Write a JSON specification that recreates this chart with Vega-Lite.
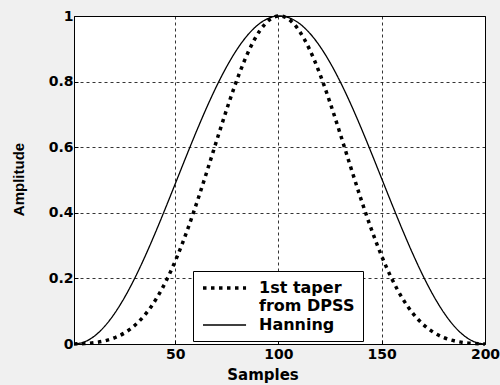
{
  "$schema": "https://vega.github.io/schema/vega-lite/v6.json",
  "width": 411,
  "height": 328,
  "autosize": {"type": "none"},
  "padding": {"left": 74, "top": 16, "right": 15, "bottom": 41},
  "background": "#f0f0f0",
  "data": {"values": [
    {"x": 1, "dpss": 0.0002, "hann": 0},
    {"x": 6, "dpss": 0.0014, "hann": 0.0062},
    {"x": 11, "dpss": 0.0042, "hann": 0.0247},
    {"x": 16, "dpss": 0.0098, "hann": 0.0550},
    {"x": 21, "dpss": 0.0198, "hann": 0.0964},
    {"x": 26, "dpss": 0.0359, "hann": 0.1478},
    {"x": 31, "dpss": 0.0600, "hann": 0.2080},
    {"x": 36, "dpss": 0.0940, "hann": 0.2755},
    {"x": 41, "dpss": 0.1394, "hann": 0.3485},
    {"x": 46, "dpss": 0.1973, "hann": 0.4253},
    {"x": 51, "dpss": 0.2676, "hann": 0.5039},
    {"x": 56, "dpss": 0.3495, "hann": 0.5825},
    {"x": 61, "dpss": 0.4410, "hann": 0.6590},
    {"x": 66, "dpss": 0.5387, "hann": 0.7316},
    {"x": 71, "dpss": 0.6386, "hann": 0.7983},
    {"x": 76, "dpss": 0.7354, "hann": 0.8577},
    {"x": 81, "dpss": 0.8240, "hann": 0.9082},
    {"x": 86, "dpss": 0.8989, "hann": 0.9485},
    {"x": 91, "dpss": 0.9554, "hann": 0.9777},
    {"x": 96, "dpss": 0.9898, "hann": 0.9950},
    {"x": 100, "dpss": 0.9999, "hann": 1.0},
    {"x": 101, "dpss": 0.9999, "hann": 1.0},
    {"x": 105, "dpss": 0.9898, "hann": 0.9950},
    {"x": 110, "dpss": 0.9554, "hann": 0.9777},
    {"x": 115, "dpss": 0.8989, "hann": 0.9485},
    {"x": 120, "dpss": 0.8240, "hann": 0.9082},
    {"x": 125, "dpss": 0.7354, "hann": 0.8577},
    {"x": 130, "dpss": 0.6386, "hann": 0.7983},
    {"x": 135, "dpss": 0.5387, "hann": 0.7316},
    {"x": 140, "dpss": 0.4410, "hann": 0.6590},
    {"x": 145, "dpss": 0.3495, "hann": 0.5825},
    {"x": 150, "dpss": 0.2676, "hann": 0.5039},
    {"x": 155, "dpss": 0.1973, "hann": 0.4253},
    {"x": 160, "dpss": 0.1394, "hann": 0.3485},
    {"x": 165, "dpss": 0.0940, "hann": 0.2755},
    {"x": 170, "dpss": 0.0600, "hann": 0.2080},
    {"x": 175, "dpss": 0.0359, "hann": 0.1478},
    {"x": 180, "dpss": 0.0198, "hann": 0.0964},
    {"x": 185, "dpss": 0.0098, "hann": 0.0550},
    {"x": 190, "dpss": 0.0042, "hann": 0.0247},
    {"x": 195, "dpss": 0.0014, "hann": 0.0062},
    {"x": 200, "dpss": 0.0002, "hann": 0}
  ]},
  "transform": [{"fold": ["dpss", "hann"], "as": ["series", "y"]}],
  "mark": {"type": "line", "interpolate": "monotone"},
  "encoding": {
    "x": {
      "field": "x", "type": "quantitative",
      "scale": {"domain": [1, 200], "nice": false, "zero": false},
      "axis": {
        "values": [50, 100, 150, 200],
        "title": "Samples",
        "titleFont": "DejaVu Sans", "titleFontWeight": "bold", "titleFontSize": 15, "titleColor": "black",
        "titleX": 188.5, "titleY": 35.5, "titleBaseline": "alphabetic", "titleAlign": "center",
        "labelFont": "DejaVu Sans", "labelFontWeight": "bold", "labelFontSize": 14, "labelColor": "black",
        "labelPadding": 7, "labelFlush": false, "labelOverlap": false,
        "tickSize": -4, "tickColor": "black", "domain": false
      }
    },
    "y": {
      "field": "y", "type": "quantitative",
      "scale": {"domain": [0, 1], "nice": false},
      "axis": {
        "values": [0, 0.2, 0.4, 0.6, 0.8, 1],
        "format": ".1~f",
        "title": "Amplitude",
        "titleFont": "Liberation Sans", "titleFontWeight": "bold", "titleFontSize": 15, "titleColor": "black",
        "titleX": -50.5, "titleY": 163, "titleAngle": -90, "titleBaseline": "alphabetic", "titleAlign": "center",
        "labelFont": "DejaVu Sans", "labelFontWeight": "bold", "labelFontSize": 14, "labelColor": "black",
        "labelPadding": 5, "labelFlush": false, "labelOverlap": false,
        "tickSize": -4, "tickColor": "black", "domain": false
      }
    },
    "color": {
      "field": "series", "type": "nominal",
      "scale": {"domain": ["dpss", "hann"], "range": ["black", "black"]},
      "legend": {
        "title": null, "orient": "none", "legendX": 119, "legendY": 255,
        "direction": "vertical",
        "strokeColor": "black", "fillColor": "white", "padding": 8,
        "symbolType": "M -1 0 L 5.15 0", "symbolSize": 196, "symbolStrokeColor": "black",
        "labelFont": "DejaVu Sans", "labelFontWeight": "bold", "labelFontSize": 16, "labelColor": "black",
        "labelOffset": 40, "labelLimit": 200, "rowPadding": 3,
        "labelExpr": "datum.value == 'hann' ? 'Hanning' : ['1st taper', 'from DPSS']"
      }
    },
    "strokeDash": {
      "field": "series", "type": "nominal",
      "scale": {"domain": ["dpss", "hann"], "range": [[3.5, 4.5], [1, 0]]}
    },
    "strokeWidth": {
      "field": "series", "type": "ordinal",
      "scale": {"domain": ["dpss", "hann"], "range": [3.5, 1.3]}
    }
  },
  "config": {
    "view": {"fill": "white", "stroke": "black", "strokeWidth": 1},
    "axis": {"grid": true, "gridColor": "black", "gridDash": [3, 3], "gridOpacity": 1, "gridWidth": 0.8}
  }
}
